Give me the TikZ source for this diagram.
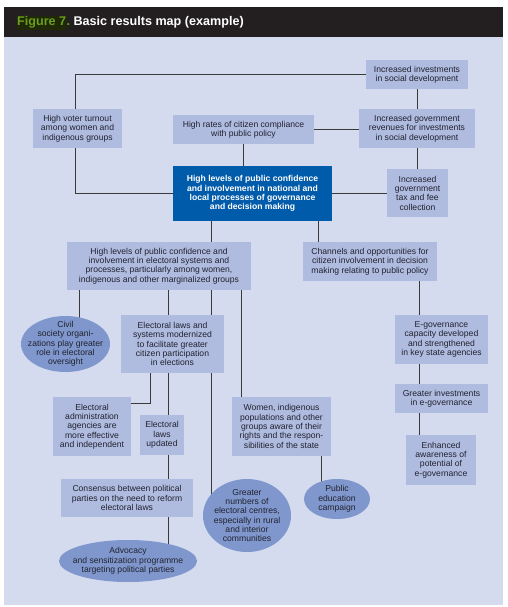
\documentclass[tikz,border=0pt]{standalone}
\usepackage{fontspec}
\setmainfont{Liberation Sans}
\usetikzlibrary{shapes.geometric,calc}
\definecolor{bgc}{HTML}{D4DBEE}
\definecolor{boxc}{HTML}{AFBCE0}
\definecolor{ellc}{HTML}{7F97CD}
\definecolor{cenc}{HTML}{005BAA}
\definecolor{headc}{HTML}{231F20}
\definecolor{figgreen}{HTML}{6A9F1F}
\definecolor{figdark}{HTML}{1F2908}
\definecolor{linec}{HTML}{3A3A3A}
\definecolor{txtc}{HTML}{22222F}
\pgfdeclarelayer{bgl}
\pgfdeclarelayer{lines}
\pgfsetlayers{bgl,lines,main}
\newcommand{\fsz}{\fontsize{8.6}{9.3}\selectfont}
\begin{document}
\begin{tikzpicture}[x=1pt,y=-1pt,
  box/.style={fill=boxc, inner sep=0pt, align=center, font=\fsz, text=txtc},
  cbox/.style={fill=cenc, inner sep=0pt, align=center, font=\fsz\bfseries, text=white},
  ell/.style={ellipse, fill=ellc, inner sep=0pt},
  etxt/.style={inner sep=0pt, align=center, font=\fsz, text=txtc},
  conn/.style={draw=linec, line width=1pt},
  htxt/.style={font=\bfseries\fontsize{12.6}{14}\selectfont}]
\useasboundingbox (0,0) rectangle (507,607);
\begin{pgfonlayer}{bgl}
\fill[headc] (4,7) rectangle (503,37);
\fill[bgc] (4,37) rectangle (503,605);
\end{pgfonlayer}
% header
\node[fill=figdark, text=figgreen, inner xsep=0pt, inner ysep=1pt, anchor=base west, htxt] (fig) at (17,26) {Figure 7};
\node[inner sep=0pt, anchor=base west, htxt, text=white] (ttl) at (fig.base east) {\textcolor{figgreen}{.}\ Basic results map (example)};
% boxes
\node[box, minimum width=102, minimum height=29] (inv) at (417,74.5) {Increased investments\\in social development};
\node[box, minimum width=89, minimum height=39] (voter) at (77.5,128.5) {High voter turnout\\among women and\\indigenous groups};
\node[box, minimum width=141, minimum height=29] (comp) at (243.5,129.5) {High rates of citizen compliance\\with public policy};
\node[box, minimum width=116, minimum height=39] (rev) at (417,128.5) {Increased government\\revenues for investments\\in social development};
\node[cbox, minimum width=159, minimum height=55] (central) at (252.5,193.5) {High levels of public confidence\\and involvement in national and\\local processes of governance\\and decision making};
\node[box, minimum width=61, minimum height=48] (tax) at (417.5,193) {Increased\\government\\tax and fee\\collection};
\node[box, minimum width=184, minimum height=48] (b7) at (159,266) {High levels of public confidence and\\involvement in electoral systems and\\processes, particularly among women,\\indigenous and other marginalized groups};
\node[box, minimum width=134, minimum height=39] (chan) at (370,261.5) {Channels and opportunities for\\citizen involvement in decision\\making relating to public policy};
\node[ell, minimum width=89, minimum height=56] (civil) at (65.5,344) {};
\node[etxt] (civilt) at (civil.center) {Civil\\society organi-\\zations play greater\\role in electoral\\oversight};
\node[box, minimum width=103, minimum height=58] (elaws) at (172.5,344) {Electoral laws and\\systems modernized\\to facilitate greater\\citizen participation\\in elections};
\node[box, minimum width=93, minimum height=49] (egov) at (441.5,339.5) {E-governance\\capacity developed\\and strengthened\\in key state agencies};
\node[box, minimum width=78, minimum height=59] (admin) at (92,426.5) {Electoral\\administration\\agencies are\\more effective\\and independent};
\node[box, minimum width=44, minimum height=40] (updated) at (162,435) {Electoral\\laws\\updated};
\node[box, minimum width=99, minimum height=59] (women) at (281.5,426.5) {Women, indigenous\\populations and other\\groups aware of their\\rights and the respon-\\sibilities of the state};
\node[box, minimum width=93, minimum height=29] (ginv) at (441.5,398.5) {Greater investments\\in e-governance};
\node[box, minimum width=70, minimum height=50] (aware) at (441,460) {Enhanced\\awareness of\\potential of\\e-governance};
\node[box, minimum width=132, minimum height=38] (cons) at (127,498) {Consensus between political\\parties on the need to reform\\electoral laws};
\node[ell, minimum width=88, minimum height=73] (gnum) at (247,515.5) {};
\node[etxt] (gnumt) at (gnum.center) {Greater\\numbers of\\electoral centres,\\especially in rural\\and interior\\communities};
\node[ell, minimum width=66, minimum height=40] (pub) at (337,499) {};
\node[etxt] (pubt) at (pub.center) {Public\\education\\campaign};
\node[ell, minimum width=138, minimum height=42] (adv) at (128,561) {};
\node[etxt] (advt) at (adv.center) {Advocacy\\and sensitization programme\\targeting political parties};
% helper coordinates
\coordinate (c75) at (75,0);
\coordinate (c79) at (79,0);
\coordinate (c150) at (150,0);
\coordinate (c168) at (168,0);
\coordinate (c211) at (211,0);
\coordinate (c241) at (241,0);
\coordinate (c318) at (318,0);
\coordinate (c321) at (321,0);
\coordinate (c419) at (419,0);
\coordinate (r403) at (0,403);
\begin{pgfonlayer}{lines}
\draw[conn] (inv.west) -| (c75 |- voter.north);
\draw[conn] (inv.south) -- (rev.north);
\draw[conn] (comp.east) -- (comp.east -| rev.west);
\draw[conn] (comp.south) -- (comp.south |- central.north);
\draw[conn] (c75 |- voter.south) |- (central.west);
\draw[conn] (central.east) -- (central.east -| tax.west);
\draw[conn] (rev.south) -- (rev.south |- tax.north);
\draw[conn] (c211 |- central.south) -- (c211 |- gnum.center);
\draw[conn] (c318 |- central.south) -- (c318 |- chan.north);
\draw[conn] (c79 |- b7.south) -- (c79 |- civil.center);
\draw[conn] (c168 |- b7.south) -- (c168 |- adv.center);
\draw[conn] (c241 |- b7.south) -- (c241 |- women.north);
\draw[conn] (c150 |- elaws.south) |- (admin.east |- r403);
\draw[conn] (c419 |- chan.south) -- (c419 |- aware.north);
\draw[conn] (c321 |- women.south) -- (c321 |- pub.center);
\end{pgfonlayer}
\end{tikzpicture}
\end{document}
